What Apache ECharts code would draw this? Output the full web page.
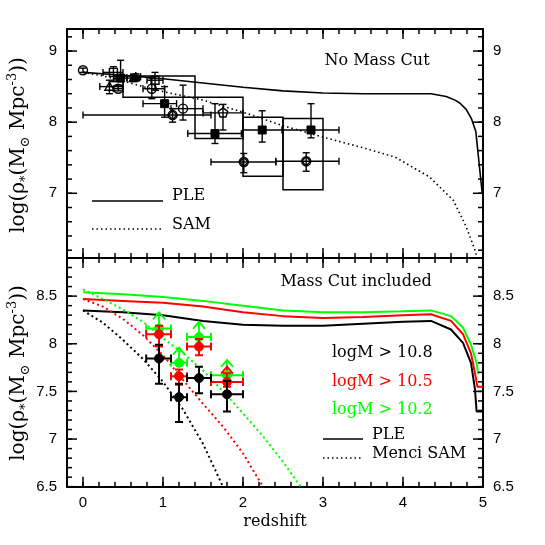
<!DOCTYPE html>
<html><head><meta charset="utf-8">
<script src="https://cdn.jsdelivr.net/npm/echarts@6/dist/echarts.min.js"></script>
<style>html,body{margin:0;padding:0;background:#fff}#c{width:545px;height:545px}</style>
</head><body><div id="c"></div>
<script>
// ---------------- DATA ----------------
// Top panel (No Mass Cut): model curves [redshift, log rho]
const pleTop = [[0,8.70],[0.5,8.66],[1,8.61],[1.5,8.55],[2,8.49],[2.5,8.44],[3,8.41],[3.5,8.40],[4,8.40],[4.35,8.40],[4.54,8.36],[4.65,8.31],[4.71,8.27],[4.79,8.18],[4.855,8.05],[4.91,7.87],[4.99,7.0]];
const samTop = [[0,8.70],[0.25,8.65],[0.5,8.58],[0.75,8.50],[1,8.43],[1.5,8.31],[2,8.14],[2.5,7.95],[3,7.79],[3.5,7.64],[3.9,7.51],[4.33,7.23],[4.63,6.9],[4.79,6.53],[4.9,6.2],[4.95,6.0]];
// boxes [zlo, zhi, ylo, yhi]
const boxesTop = [[0.5,1.4,8.35,8.65],[1.4,2.0,7.77,8.35],[2.0,2.5,7.24,8.07],[2.5,3.0,7.05,8.05]];
// points [z, y, zlo, zhi, ylo, yhi]
const openCircles = [[0,8.73,0,0,8.70,8.76],[0.44,8.47,0.38,0.5,8.44,8.52],[0.86,8.47,0.75,1.02,8.33,8.62],[1.25,8.19,1.1,1.5,8.03,8.52]];
const openSquares = [[0.38,8.70,0.25,0.5,8.57,8.78],[0.9,8.59,0.8,1.0,8.45,8.70]];
const openTriangles = [[0.33,8.50,0.21,0.5,8.40,8.59]];
const filledTriangles = [[0.63,8.62,0.55,0.7,8.57,8.67],[0.66,8.64,0.6,0.72,8.58,8.68]];
const filledSquares = [[0.47,8.62,0.4,0.55,8.57,8.87],[1.02,8.26,0.75,1.17,8.07,8.50],[1.65,7.84,1.31,1.98,7.70,8.26],[2.24,7.89,2.0,2.49,7.72,8.16],[2.85,7.89,2.49,3.2,7.78,8.26]];
const diamondCircles = [[1.12,8.10,0.0,1.6,8.0,8.19],[2.01,7.44,1.6,2.41,7.29,7.56],[2.79,7.45,2.41,3.2,7.31,7.57]];
const pentagons = [[1.75,8.13,1.5,2.0,7.89,8.25]];

// Bottom panel (Mass Cut included)
const pleBlack = [[0,8.35],[0.5,8.33],[1,8.30],[1.5,8.24],[2,8.20],[2.5,8.19],[3,8.19],[3.5,8.21],[4,8.23],[4.35,8.24],[4.6,8.15],[4.75,8.01],[4.85,7.80],[4.9,7.52],[4.92,7.29],[5.0,7.29]];
const pleRed = [[0,8.47],[0.5,8.45],[1,8.43],[1.5,8.39],[2,8.33],[2.5,8.29],[3,8.27],[3.5,8.28],[4,8.30],[4.35,8.31],[4.6,8.24],[4.75,8.10],[4.85,7.90],[4.9,7.69],[4.93,7.55],[5.0,7.55]];
const pleGreen = [[0,8.54],[0.5,8.52],[1,8.49],[1.5,8.45],[2,8.40],[2.5,8.35],[3,8.33],[3.5,8.33],[4,8.34],[4.35,8.35],[4.6,8.29],[4.75,8.17],[4.85,7.99],[4.92,7.80],[4.94,7.68]];
const samBlack = [[0,8.35],[0.25,8.22],[0.5,8.04],[0.75,7.84],[1,7.60],[1.25,7.31],[1.5,6.95],[1.75,6.50]];
const samRed = [[0,8.47],[0.25,8.39],[0.5,8.26],[0.75,8.09],[1,7.88],[1.25,7.62],[1.5,7.37],[1.75,7.13],[2,6.85],[2.25,6.50]];
const samGreen = [[0,8.57],[0.25,8.47],[0.5,8.36],[0.75,8.23],[1,8.06],[1.25,7.90],[1.5,7.72],[1.75,7.50],[2,7.27],[2.25,7.03],[2.5,6.76],[2.72,6.50]];
// points [z, y, zlo, zhi, ylo, yhi]
const blackPts = [[0.95,7.845,0.79,1.1,7.58,7.99],[1.2,7.44,1.1,1.3,7.18,7.58],[1.45,7.64,1.3,1.6,7.48,7.76],[1.8,7.47,1.6,2.0,7.29,7.61]];
const redPts = [[0.95,8.10,0.79,1.1,7.97,8.19],[1.2,7.66,1.1,1.3,7.57,7.73],[1.45,7.97,1.3,1.6,7.88,8.05],[1.8,7.60,1.6,2.0,7.55,7.69]];
const greenPts = [[0.95,8.16,0.79,1.1,8.16,8.16],[1.2,7.80,1.1,1.3,7.80,7.80],[1.45,8.07,1.3,1.6,8.07,8.07],[1.8,7.67,1.6,2.0,7.67,7.67]];
// lower-limit arrows [z, y, ytip]
const greenArrows = [[0.95,8.16,8.33],[1.2,7.80,7.96],[1.45,8.07,8.23],[1.8,7.67,7.83]];
const redArrows = [[1.8,7.60,7.76]];

// tick labels
const xMajor = [0,1,2,3,4,5];
const yMajorTop = [7,8,9];
const yMajorBot = [6.5,7,7.5,8,8.5];

// ---------------- CHART ----------------
function makeRange(a,b,s){const r=[];for(let v=a;v<=b+1e-9;v+=s)r.push(Math.round(v*100)/100);return r;}
const xMinor = makeRange(-0.2,5,0.2);
const yMinorTop = makeRange(6.2,9.2,0.2);
const yMinorBot = makeRange(6.5,8.9,0.1);
const TOP_RANGE = [6.09,9.31], BOT_RANGE = [6.5,8.9], X_RANGE = [-0.2,5];
const GRID_W = 416, GRID_H = [229, 228.7];

const LBL = {fontFamily:'Liberation Sans', fontSize:15, color:'#000'};
const SERIF = 'DejaVu Serif';

function mkAxis(dir, grid, pos, major, rng, showLabel){
  return {type:'value', gridIndex:grid, min:rng[0], max:rng[1], position:pos,
    splitLine:{show:false},
    axisLine:{show:true, onZero:false, lineStyle:{color:'#000', width:2}},
    axisTick:{show:false},
    axisLabel:Object.assign({show:showLabel, customValues:major, margin:dir==='x'?9:10}, LBL)};
}
const xAxes = [
  mkAxis('x',0,'bottom',xMajor,X_RANGE,false),
  mkAxis('x',0,'top',xMajor,X_RANGE,false),
  mkAxis('x',1,'bottom',xMajor,X_RANGE,true),
  mkAxis('x',1,'top',xMajor,X_RANGE,false)
];
const yAxes = [
  mkAxis('y',0,'left',yMajorTop,TOP_RANGE,true),
  mkAxis('y',0,'right',yMajorTop,TOP_RANGE,true),
  mkAxis('y',1,'left',yMajorBot,BOT_RANGE,true),
  mkAxis('y',1,'right',yMajorBot,BOT_RANGE,true)
];

function seg(x1,y1,x2,y2,st){return {type:'line', shape:{x1:x1,y1:y1,x2:x2,y2:y2}, style:st};}

function lineSeries(data, grid, color, width, dash){
  return {type:'line', data:data, xAxisIndex:grid*2, yAxisIndex:grid*2, showSymbol:false, symbol:'none',
    silent:true, clip:true, z:3, lineStyle:{color:color, width:width, type:dash||'solid'}};
}

function errSeries(data, grid, kind, color, lw, cap, r, clip){
  return {type:'custom', data:data, xAxisIndex:grid*2, yAxisIndex:grid*2, clip:clip!==false, silent:true, z:5,
    encode:{x:0, y:1},
    renderItem:function(params, api){
      const x=api.value(0), y=api.value(1), xlo=api.value(2), xhi=api.value(3), ylo=api.value(4), yhi=api.value(5);
      const p=api.coord([x,y]);
      const st={stroke:color, lineWidth:lw, fill:null};
      const ch=[];
      if(xhi>xlo){
        const a=api.coord([xlo,y]), b=api.coord([xhi,y]);
        ch.push(seg(a[0],a[1],b[0],b[1],st));
        if(cap>0){ch.push(seg(a[0],a[1]-cap,a[0],a[1]+cap,st));
        ch.push(seg(b[0],b[1]-cap,b[0],b[1]+cap,st));}
      }
      if(yhi>ylo){
        const a=api.coord([x,ylo]), b=api.coord([x,yhi]);
        ch.push(seg(a[0],a[1],b[0],b[1],st));
        if(cap>0){ch.push(seg(a[0]-cap,a[1],a[0]+cap,a[1],st));
        ch.push(seg(b[0]-cap,b[1],b[0]+cap,b[1],st));}
      }
      const cx=p[0], cy=p[1];
      const open={stroke:color, lineWidth:lw, fill:null};
      const fill={fill:color, stroke:color, lineWidth:1};
      if(kind==='circle') ch.push({type:'circle', shape:{cx:cx,cy:cy,r:r}, style:open});
      else if(kind==='fcircle') ch.push({type:'circle', shape:{cx:cx,cy:cy,r:r}, style:fill});
      else if(kind==='square') ch.push({type:'rect', shape:{x:cx-r,y:cy-r,width:2*r,height:2*r}, style:open});
      else if(kind==='fsquare') ch.push({type:'rect', shape:{x:cx-r,y:cy-r,width:2*r,height:2*r}, style:fill});
      else if(kind==='triangle'||kind==='ftriangle') ch.push({type:'polygon', shape:{points:[[cx,cy-r],[cx+r,cy+r*0.8],[cx-r,cy+r*0.8]]}, style:kind==='triangle'?open:fill});
      else if(kind==='dcircle'){
        ch.push({type:'circle', shape:{cx:cx,cy:cy,r:r}, style:open});
        ch.push({type:'polygon', shape:{points:[[cx,cy-r],[cx+r,cy],[cx,cy+r],[cx-r,cy]]}, style:open});
      } else if(kind==='pentagon'){
        const pts=[];for(let k=0;k<5;k++){const a=-Math.PI/2+k*2*Math.PI/5;pts.push([cx+r*Math.cos(a),cy+r*Math.sin(a)]);}
        ch.push({type:'polygon', shape:{points:pts}, style:open});
      }
      return {type:'group', children:ch};
    }};
}

// tick marks expressed as short segments in data units (same drawing path as error bars)
function tickItems(grid, yr, yMaj, yMin){
  const ux = (X_RANGE[1]-X_RANGE[0])/GRID_W, uy = (yr[1]-yr[0])/GRID_H[grid];
  const out = [];
  const addX = (vals, len) => vals.forEach(v => {
    out.push([v, yr[0], v, v, yr[0], yr[0]+len*uy]);
    out.push([v, yr[1], v, v, yr[1]-len*uy, yr[1]]);
  });
  const addY = (vals, len) => vals.forEach(v => {
    out.push([X_RANGE[0], v, X_RANGE[0], X_RANGE[0]+len*ux, v, v]);
    out.push([X_RANGE[1], v, X_RANGE[1]-len*ux, X_RANGE[1], v, v]);
  });
  addX(xMajor,10); addX(xMinor,5); addY(yMaj,10); addY(yMin,5);
  return out;
}

function arrowSeries(data, grid, color){
  return {type:'custom', data:data, xAxisIndex:grid*2, yAxisIndex:grid*2, clip:true, silent:true, z:4,
    encode:{x:0, y:1},
    renderItem:function(params, api){
      const p=api.coord([api.value(0),api.value(1)]);
      const t=api.coord([api.value(0),api.value(2)]);
      const st={stroke:color, lineWidth:1.8, fill:null};
      return {type:'group', children:[
        seg(p[0],p[1],t[0],t[1],st),
        {type:'polyline', shape:{points:[[t[0]-6,t[1]+7],[t[0],t[1]],[t[0]+6,t[1]+7]]}, style:st}
      ]};
    }};
}

function boxSeries(data, grid){
  return {type:'custom', data:data, xAxisIndex:grid*2, yAxisIndex:grid*2, clip:true, silent:true, z:2,
    encode:{x:[0,1], y:[2,3]},
    renderItem:function(params, api){
      const a=api.coord([api.value(0),api.value(3)]), b=api.coord([api.value(1),api.value(2)]);
      return {type:'rect', shape:{x:a[0],y:a[1],width:b[0]-a[0],height:b[1]-a[1]}, style:{stroke:'#000', lineWidth:1.5, fill:null}};
    }};
}

const RED='#ff0000', GREEN='#00ff00', BLACK='#000000';

const series = [
  lineSeries(pleTop,0,BLACK,1.6),
  lineSeries(samTop,0,BLACK,1.6,[1.5,3]),
  boxSeries(boxesTop,0),
  errSeries(openCircles,0,'circle',BLACK,1.4,3.5,4.5),
  errSeries(openSquares,0,'square',BLACK,1.4,3.5,4),
  errSeries(openTriangles,0,'triangle',BLACK,1.4,3.5,4.5),
  errSeries(filledTriangles,0,'ftriangle',BLACK,1.4,3.5,4.5),
  errSeries(filledSquares,0,'fsquare',BLACK,1.4,3.5,4),
  errSeries(diamondCircles,0,'dcircle',BLACK,1.4,3.5,4.5),
  errSeries(pentagons,0,'pentagon',BLACK,1.4,3.5,5),

  lineSeries(pleBlack,1,BLACK,2),
  lineSeries(pleRed,1,RED,2),
  lineSeries(pleGreen,1,GREEN,2),
  lineSeries(samBlack,1,BLACK,2,[2,3]),
  lineSeries(samRed,1,RED,2,[2,3]),
  lineSeries(samGreen,1,GREEN,2,[2,3]),
  arrowSeries(greenArrows,1,GREEN),
  errSeries(greenPts,1,'fcircle',GREEN,2,4,4.5),
  arrowSeries(redArrows,1,RED),
  errSeries(redPts,1,'fcircle',RED,2,4,4.5),
  errSeries(blackPts,1,'fcircle',BLACK,2,4,4.5),

  errSeries(tickItems(0,TOP_RANGE,yMajorTop,yMinorTop),0,'none',BLACK,1.5,0,0,false),
  errSeries(tickItems(1,BOT_RANGE,yMajorBot,yMinorBot),1,'none',BLACK,1.5,0,0,false)
];

const ylabRich = {
  a:{fontFamily:SERIF, fontSize:20, color:'#000', lineHeight:26, verticalAlign:'middle'},
  s:{fontFamily:SERIF, fontSize:13, color:'#000', lineHeight:26, verticalAlign:'bottom'},
  p:{fontFamily:SERIF, fontSize:13, color:'#000', lineHeight:26, verticalAlign:'top'}
};
const ylabText = '{a|log(ρ}{s|*}{a|(M}{s|⊙}{a| Mpc}{p|-3}{a|))}';

function txt(x,y,s,color,align){
  return {type:'text', x:x, y:y, silent:true, style:{text:s, fill:color||'#000', fontFamily:SERIF, fontSize:16, align:align||'left', verticalAlign:'middle'}};
}
function lg(x1,x2,y,dash){
  return {type:'line', silent:true, shape:{x1:x1,y1:y,x2:x2,y2:y}, style:{stroke:'#000', lineWidth:1.6, lineDash:dash||null}};
}

const graphic = [
  {type:'text', x:19, y:145, rotation:Math.PI/2, silent:true, style:{text:ylabText, rich:ylabRich, align:'center', verticalAlign:'middle'}},
  {type:'text', x:19, y:373, rotation:Math.PI/2, silent:true, style:{text:ylabText, rich:ylabRich, align:'center', verticalAlign:'middle'}},
  txt(377,61,'No Mass Cut',null,'center'),
  lg(92,163,201), txt(172,196,'PLE'),
  lg(92,163,229,[1.5,3]), txt(172,225,'SAM'),
  txt(356,282,'Mass Cut included',null,'center'),
  txt(332,353,'logM > 10.8','#000'),
  txt(332,381.5,'logM > 10.5',RED),
  txt(332,410,'logM > 10.2',GREEN),
  lg(323,363,439), txt(372,435,'PLE'),
  lg(323,363,458,[1.5,3]), txt(372,453.5,'Menci SAM'),
  txt(275,522,'redshift',null,'center')
];

const chart = echarts.init(document.getElementById('c'), null, {renderer:'canvas'});
chart.setOption({
  animation:false,
  backgroundColor:'#fff',
  grid:[{left:67, width:GRID_W, top:29, height:GRID_H[0]},{left:67, width:GRID_W, top:258, height:GRID_H[1]}],
  xAxis:xAxes, yAxis:yAxes, series:series, graphic:graphic
});
</script></body></html>
